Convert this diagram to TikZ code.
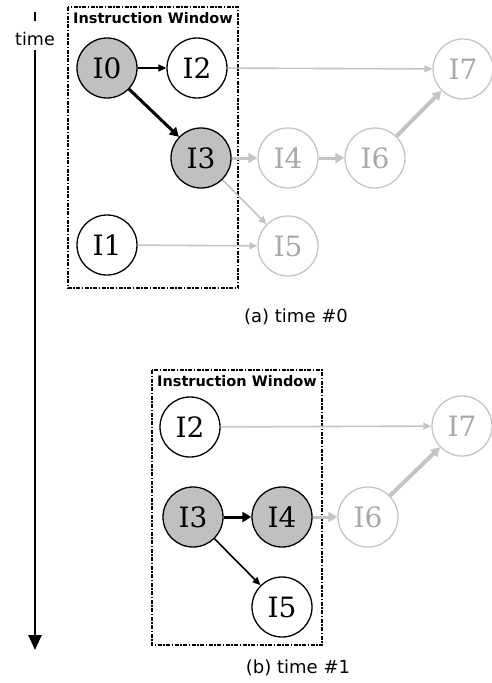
\documentclass[tikz,border=0pt]{standalone}
\usepackage{fontspec}
\setmainfont{DejaVu Serif}
\setsansfont{DejaVu Sans}
\usetikzlibrary{arrows.meta}
\definecolor{nodegray}{HTML}{C0C0C0}
\definecolor{fadegray}{HTML}{C4C4C4}
\definecolor{fadetext}{HTML}{A8A8A8}

\begin{document}
\begin{tikzpicture}[x=1pt, y=-1pt,
  instr/.style={draw, circle, line width=1.3pt, minimum size=60pt, inner sep=0pt, font=\fontsize{28}{30}\selectfont},
  done/.style={instr, fill=nodegray},
  faded/.style={instr, draw=fadegray, text=fadetext},
  window/.style={draw, line width=1.8pt, dash pattern=on 4pt off 1.5pt on 1.5pt off 1.5pt},
  winlabel/.style={anchor=north west, inner sep=1pt, font=\sffamily\bfseries\fontsize{14.5}{16}\selectfont},
  caption/.style={font=\sffamily\fontsize{18}{21}\selectfont},
  dep/.style={line width=1.6pt, -{Triangle[length=8pt,width=7pt]}},
  bigdep/.style={line width=3pt, -{Triangle[length=9pt,width=10pt]}},
  gdep/.style={dep, draw=fadegray},
  gbigdep/.style={bigdep, draw=fadegray}]
  \useasboundingbox (0,0) rectangle (492,683);

  % Time axis
  \coordinate (t1) at (35,12);
  \coordinate (t2) at (35,21);
  \node[caption, font=\sffamily\fontsize{17.5}{20}\selectfont] (time) at (35,39) {time};
  \coordinate (t3) at (35,50);
  \coordinate (t4) at (35,650);
  \draw[line width=2.5pt] (t1) -- (t2);
  \draw[line width=2.5pt, -{Triangle[length=15pt,width=13pt]}] (t3) -- (t4);

  % (a) time #0
  \draw[window] (68,7) rectangle (238,288);
  \node[winlabel] (wa) at (72,11) {Instruction Window};
  \node[done]  (a0) at (107,68)  {I0};
  \node[instr] (a2) at (197,68)  {I2};
  \node[done]  (a3) at (201,158) {I3};
  \node[faded] (a4) at (288,158) {I4};
  \node[faded] (a6) at (375,158) {I6};
  \node[faded] (a7) at (463,69)  {I7};
  \node[instr] (a1) at (107,245) {I1};
  \node[faded] (a5) at (288,246) {I5};
  \node[caption] (capa) at (296,317) {(a) time \#0};

  \draw[dep] (a0) -- (a2);
  \draw[bigdep] (a0) -- (a3);
  \draw[gdep] (a2) -- (a7);
  \draw[gbigdep] (a3) -- (a4);
  \draw[gbigdep] (a4) -- (a6);
  \draw[gbigdep, line width=4pt] (a6) -- (a7);
  \draw[gdep] (a3) -- (a5);
  \draw[gdep] (a1) -- (a5);

  % (b) time #1
  \draw[window] (152,370) rectangle (322,645);
  \node[winlabel] (wb) at (156,374) {Instruction Window};
  \node[instr] (b2) at (190,427) {I2};
  \node[faded] (b7) at (462,426) {I7};
  \node[done]  (b3) at (193,517) {I3};
  \node[done]  (b4) at (282,517) {I4};
  \node[faded] (b6) at (368,517) {I6};
  \node[instr] (b5) at (282,607) {I5};
  \node[caption] (capb) at (298,668) {(b) time \#1};

  \draw[gdep] (b2) -- (b7);
  \draw[bigdep] (b3) -- (b4);
  \draw[gbigdep] (b4) -- (b6);
  \draw[gbigdep, line width=4pt] (b6) -- (b7);
  \draw[dep] (b3) -- (b5);
\end{tikzpicture}
\end{document}
